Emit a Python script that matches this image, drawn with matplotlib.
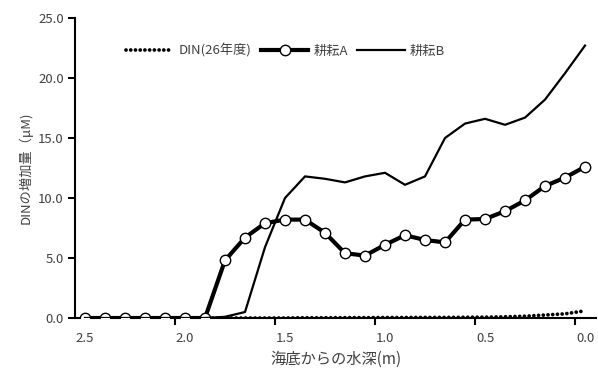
import numpy as np
import matplotlib
matplotlib.use("Agg")
import matplotlib.pyplot as plt
from matplotlib.ticker import FixedLocator, FormatStrFormatter

plt.rcParams["font.family"] = ["Noto Sans CJK JP", "DejaVu Sans"]

# depth from sea floor (m), 0.1 m steps from 2.5 down to 0.0
depth = [2.5, 2.4, 2.3, 2.2, 2.1, 2.0, 1.9, 1.8, 1.7, 1.6, 1.5, 1.4, 1.3,
         1.2, 1.1, 1.0, 0.9, 0.8, 0.7, 0.6, 0.5, 0.4, 0.3, 0.2, 0.1, 0.0]

din_26 = [0.0, 0.0, 0.0, 0.0, 0.0, 0.0, 0.0, 0.0, 0.0, 0.0, 0.0, 0.02, 0.02,
          0.03, 0.03, 0.04, 0.04, 0.05, 0.05, 0.06, 0.07, 0.1, 0.15, 0.25, 0.35, 0.6]
till_a = [0.0, 0.0, 0.0, 0.0, 0.0, 0.0, 0.0, 4.8, 6.7, 7.9, 8.2, 8.2, 7.1,
          5.4, 5.2, 6.1, 6.9, 6.5, 6.3, 8.2, 8.25, 8.9, 9.8, 11.0, 11.7, 12.6]
till_b = [0.0, 0.0, 0.0, 0.0, 0.0, 0.0, 0.0, 0.1, 0.5, 5.9, 10.0, 11.8, 11.6,
          11.3, 11.8, 12.1, 11.1, 11.8, 15.0, 16.2, 16.6, 16.1, 16.7, 18.2, 20.4, 22.7]

labels = ["DIN(26年度)", "耕耘A", "耕耘B"]
x_ticks = [2.5, 2.0, 1.5, 1.0, 0.5, 0.0]
y_ticks = [0, 5, 10, 15, 20, 25]

GREY = "#404040"


def main():
    fig = plt.figure(figsize=(5.98, 3.70), dpi=100)
    ax = fig.add_axes([0.1254, 0.1405, 0.8713, 0.8109])

    ax.plot(depth, din_26, color="black", lw=2.7, linestyle=(0, (0.01, 1.25)),
            dash_capstyle="round", label=labels[0], zorder=2)
    ax.plot(depth, till_a, color="black", lw=3.0, marker="o", markersize=7.5,
            markerfacecolor="white", markeredgecolor="black", markeredgewidth=1.0,
            label=labels[1], zorder=3)
    ax.plot(depth, till_b, color="black", lw=1.6, label=labels[2], zorder=4)

    ax.set_xlim(2.55, -0.055)
    ax.set_ylim(0, 25)

    # category-style axis: labels at points, tick marks between groups
    ax.xaxis.set_major_locator(FixedLocator(x_ticks))
    ax.xaxis.set_minor_locator(FixedLocator([2.05, 1.55, 1.05, 0.55, 0.05]))
    ax.xaxis.set_major_formatter(FormatStrFormatter("%.1f"))
    ax.tick_params(axis="x", which="major", length=0, pad=10, labelsize=9.5,
                   labelcolor=GREY)
    ax.tick_params(axis="x", which="minor", length=5, width=1.5, direction="out",
                   color="black")

    ax.set_yticks(y_ticks)
    ax.yaxis.set_major_formatter(FormatStrFormatter("%.1f"))
    ax.tick_params(axis="y", length=5, width=1.5, direction="out", labelsize=9.5,
                   labelcolor=GREY, pad=3)

    for side in ["top", "right"]:
        ax.spines[side].set_visible(False)
    for side in ["left", "bottom"]:
        ax.spines[side].set_linewidth(1.5)
        ax.spines[side].set_color("black")

    ax.set_xlabel("海底からの水深(m)", fontsize=11, color=GREY, labelpad=4)
    ax.set_ylabel("DINの増加量（μM)", fontsize=9.5, color=GREY, labelpad=4)

    leg = ax.legend(loc="center left", bbox_to_anchor=(0.075, 0.89), ncol=3,
                    frameon=False, fontsize=9.5, handlelength=3.6,
                    columnspacing=0.7, handletextpad=0.4)
    for t in leg.get_texts():
        t.set_color(GREY)

    fig.savefig("out.png", dpi=100)


if __name__ == "__main__":
    main()
